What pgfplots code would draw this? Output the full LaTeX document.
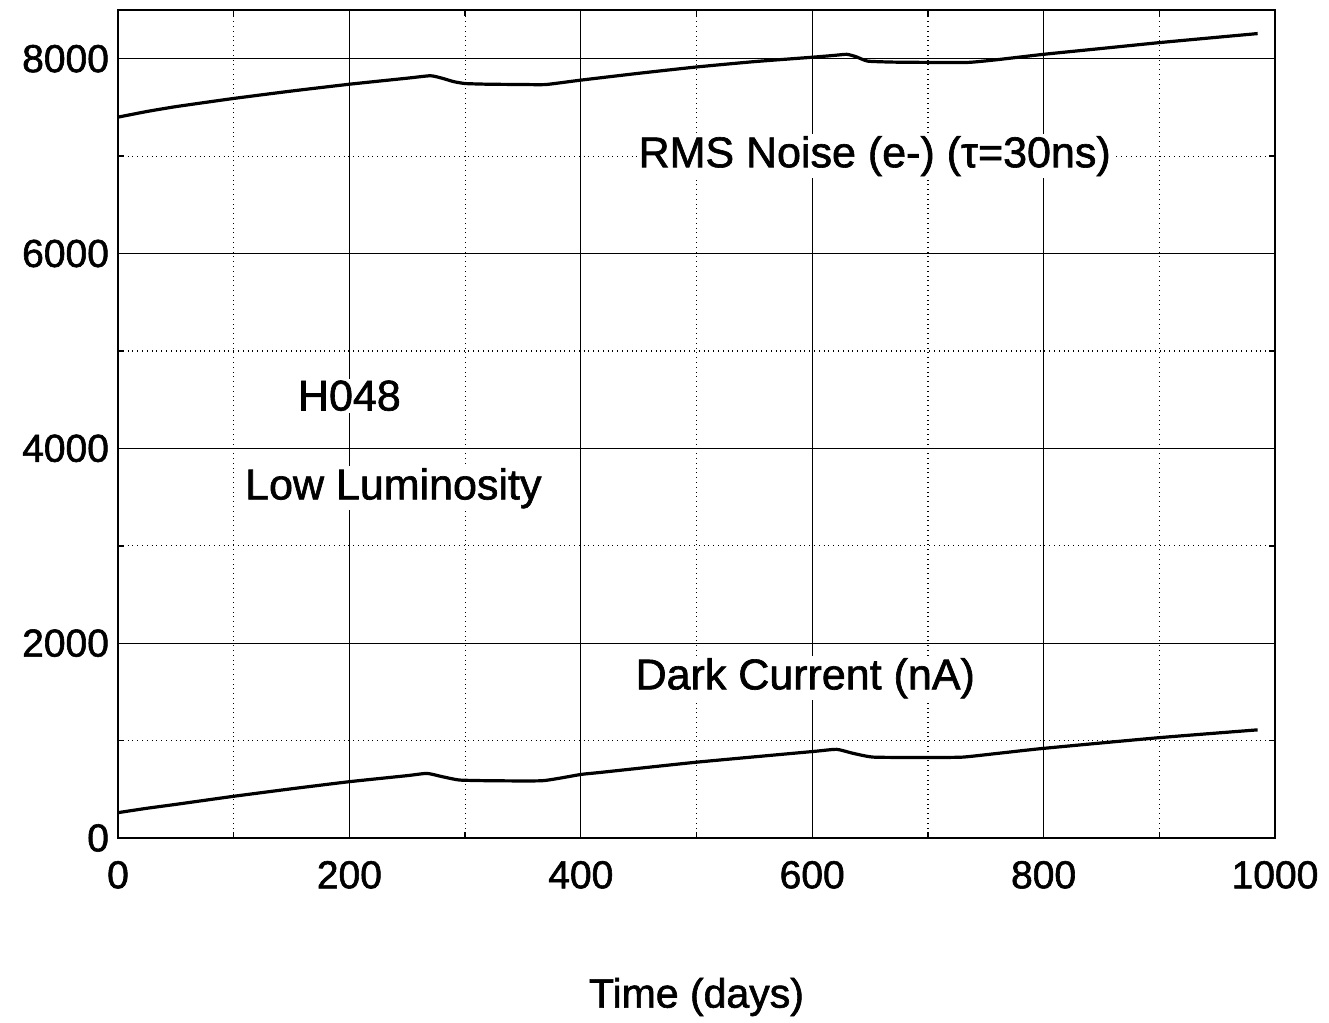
\documentclass[border=0pt]{standalone}
\usepackage{pgfplots}
\pgfplotsset{compat=1.18}
\usepackage{fontspec}
\setmainfont{Liberation Sans}[FakeBold=1.5]
\begin{document}
\begin{tikzpicture}
\begin{axis}[
  name=ax,
  scale only axis,
  width=578.5pt, height=414pt,
  xmin=0, xmax=1000, ymin=0, ymax=8500,
  xtick={0,200,...,1000},
  ytick={0,2000,4000,6000,8000},
  minor x tick num=1,
  minor y tick num=1,
  grid=both,
  major grid style={black, line width=0.6pt},
  minor grid style={black, dotted, line width=0.6pt},
  axis line style={black, line width=1.3pt},
  tick align=inside,
  major tick length=0pt,
  minor tick length=3pt,
  tick style={black, line width=0.8pt},
  /pgf/number format/assume math mode=true,
  /pgf/number format/1000 sep={},
  tick label style={font=\fontsize{19.5}{22}\selectfont},
  xticklabel style={yshift=-8pt},
  yticklabel style={xshift=-1pt},
  xlabel={Time (days)},
  xlabel style={font=\fontsize{20.5}{24}\selectfont, at={(axis description cs:0.5,0)}, anchor=center, yshift=-79.5pt},
]
\addplot[black, line width=1.6pt, smooth, tension=0.3] coordinates {
(0,7400) (25,7458) (50,7508) (100,7592) (150,7668) (200,7738) (250,7800) (270,7825)
(280,7800) (290,7765) (300,7745) (320,7738) (350,7735) (370,7735) (400,7780)
(450,7850) (500,7915) (550,7970) (600,8015) (620,8035) (630,8045) (638,8020)
(648,7975) (670,7965) (700,7962) (735,7962) (760,7990) (800,8045) (850,8105)
(900,8165) (950,8220) (985,8258)
};
\addplot[black, line width=1.6pt, smooth, tension=0.3] coordinates {
(0,260) (25,305) (50,345) (100,428) (150,505) (200,578) (250,640) (267,663)
(280,630) (295,595) (320,588) (367,588) (400,652) (417,673) (500,778) (600,887)
(621,910) (635,870) (653,830) (700,826) (730,830) (760,868) (800,920) (900,1030) (985,1110)
};
\node[fill=white, inner sep=1pt, font=\fontsize{21.5}{24}\selectfont] at (axis cs:654,7000) {RMS Noise (e-) (τ=30ns)};
\node[fill=white, inner sep=1pt, font=\fontsize{21.5}{24}\selectfont] at (axis cs:200,4540) {H048};
\node[fill=white, inner sep=1pt, font=\fontsize{21.5}{24}\selectfont] at (axis cs:238,3590) {Low Luminosity};
\node[fill=white, inner sep=1pt, font=\fontsize{21.5}{24}\selectfont] at (axis cs:594,1640) {Dark Current (nA)};
\end{axis}
\pgfresetboundingbox
\path ([shift={(-59pt,-92.5pt)}]ax.south west) rectangle ([shift={(27pt,5pt)}]ax.north east);
\end{tikzpicture}
\end{document}
